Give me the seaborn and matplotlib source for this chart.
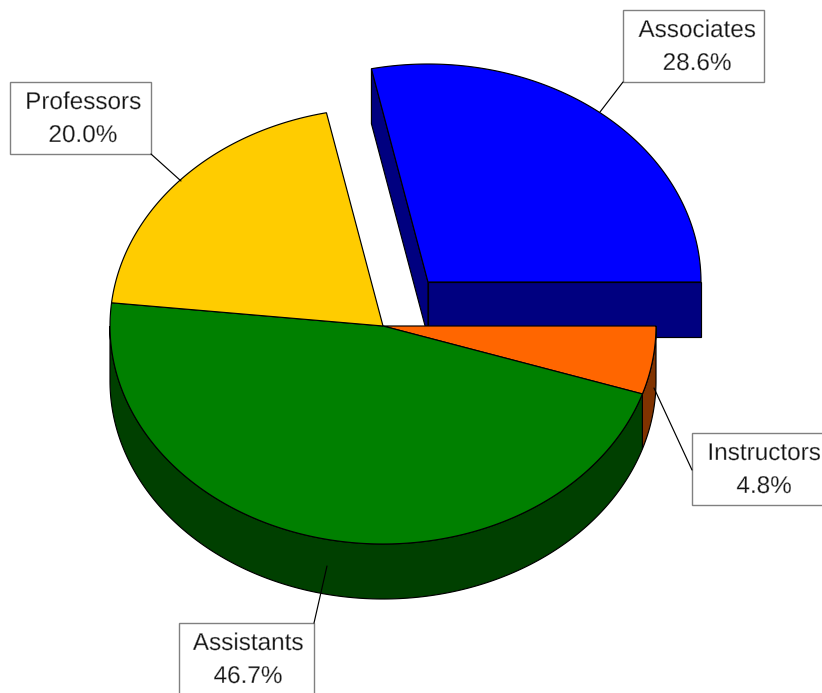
import numpy as np
import matplotlib
matplotlib.use("Agg")
import matplotlib.pyplot as plt
import matplotlib.patheffects as pe
from matplotlib.patches import Polygon, Rectangle
import seaborn as sns

# valores, sentido horario a partir das 3 horas
categorias = ["Instructors", "Assistants", "Professors", "Associates"]
percentuais = [4.8, 46.7, 20.0, 28.6]
cores_topo = ["#FF6600", "#008000", "#FFCC00", "#0000FF"]
cores_lado = ["#803300", "#004000", "#806600", "#000080"]

# geometria do pie em pixels
CX, CY = 383, 326
RX, RY = 273, 218
DEPTH = 55
EXPLODE = {"Associates": (45, -44)}
AJUSTE_ANGULO = 0.9  # o original desenha as divisoes internas um pouco adiante

# caixa de cada rotulo: x, y, largura, altura, x do texto, e linha guia
caixas = {
    "Associates": (623, 10, 141, 72, 697, [(623, 82), (600, 112)]),
    "Professors": (10, 82, 141, 72, 83, [(151, 154), (181, 181)]),
    "Instructors": (692, 433, 140, 72, 764, [(692, 470), (654, 388)]),
    "Assistants": (179, 623, 135, 80, 248, [(314, 623), (327, 566)]),
}

sns.set_theme(style="white")
plt.rcParams["font.family"] = ["Liberation Sans", "DejaVu Sans"]

fig, ax = plt.subplots(figsize=(8.22, 6.93), dpi=100)
fig.subplots_adjust(left=0, right=1, bottom=0, top=1)
ax.set_xlim(0, 822)
ax.set_ylim(693, 0)
ax.set_axis_off()


def arco(cx, cy, t0, t1):
    t = np.radians(np.linspace(t0, t1, 200))
    return np.column_stack([cx + RX * np.cos(t), cy + RY * np.sin(t)])


def poligono(pontos, cor, z):
    ax.add_patch(Polygon(pontos, closed=True, facecolor=cor, edgecolor="black",
                         linewidth=0.85, zorder=z))


total = sum(percentuais)
bordas = np.cumsum([0] + percentuais) / total * 360
bordas[1:-1] += AJUSTE_ANGULO

# fatias destacadas vao atras das outras
for i, nome in enumerate(categorias):
    t0, t1 = bordas[i], bordas[i + 1]
    dx, dy = EXPLODE.get(nome, (0, 0))
    cx, cy = CX + dx, CY + dy
    base = 1 if nome in EXPLODE else 3
    centro = np.array([cx, cy])
    if nome in EXPLODE:
        # faces de corte da fatia destacada
        for t in (t0, t1):
            p = arco(cx, cy, t, t)[0]
            poligono([centro, p, p + [0, DEPTH], centro + [0, DEPTH]], cores_lado[i], base)
    fim = min(t1, 180)
    if t0 < fim:
        topo = arco(cx, cy, t0, fim)
        poligono(np.vstack([topo, topo[::-1] + [0, DEPTH]]), cores_lado[i], base)
    poligono(np.vstack([centro, arco(cx, cy, t0, t1)]), cores_topo[i], base + 1)

# traco fino do texto, como no original
fino = [pe.Normal(), pe.Stroke(linewidth=0.3, foreground="white")]

# rotulos
for nome, valor in zip(categorias, percentuais):
    x, y, w, h, xt, guia = caixas[nome]
    ax.add_patch(Rectangle((x, y), w, h, facecolor="white", edgecolor="#808080",
                           linewidth=1, zorder=6))
    ax.plot(*zip(*guia), color="black", linewidth=0.85, zorder=7)
    ax.text(xt, y + 21, nome, ha="center", va="center", fontsize=17.5,
            color="#101010", zorder=8, path_effects=fino)
    ax.text(xt, y + 54, f"{valor:.1f}%", ha="center", va="center", fontsize=17.5,
            color="#101010", zorder=8, path_effects=fino)

fig.savefig("out.png", dpi=100)
